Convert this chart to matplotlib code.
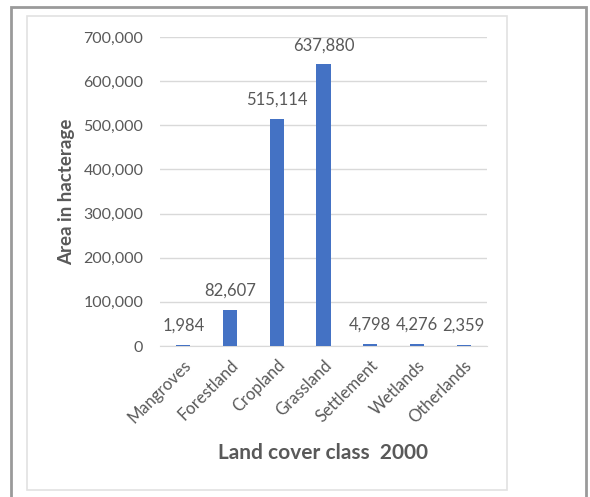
import matplotlib
matplotlib.use("Agg")
import matplotlib.pyplot as plt
from matplotlib.patches import Rectangle
from matplotlib.ticker import FuncFormatter

categories = ["Mangroves", "Forestland", "Cropland", "Grassland", "Settlement", "Wetlands", "Otherlands"]
values = [1984, 82607, 515114, 637880, 4798, 4276, 2359]

plt.rcParams['font.family'] = ['Lato', 'DejaVu Sans']
TXT = "#595959"
BAR = "#4472C4"

W, H = 590, 497
fig = plt.figure(figsize=(W/100, H/100), dpi=100)

def fx(px): return px / W
def fy(py): return 1 - py / H

# outer border
fig.patches.append(Rectangle((fx(11), fy(500)), fx(586) - fx(11), fy(7) - fy(500),
                             transform=fig.transFigure, fill=False, edgecolor="#9a9a9a", lw=2.0))
# inner chart border
fig.patches.append(Rectangle((fx(27), fy(490)), fx(507) - fx(27), fy(16) - fy(490),
                             transform=fig.transFigure, fill=False, edgecolor="#e2e2e2", lw=1.2))

ax = fig.add_axes([fx(160), fy(346), fx(487) - fx(160), fy(37) - fy(346)])
x = range(len(categories))
bars = ax.bar(x, values, width=0.3, color=BAR, zorder=3)
ax.set_xlim(-0.5, len(categories) - 0.5)
ax.set_ylim(0, 700000)
ax.set_yticks(range(0, 700001, 100000))
ax.yaxis.set_major_formatter(FuncFormatter(lambda v, p: f"{int(v):,}"))
ax.grid(axis="y", color="#d9d9d9", lw=1, zorder=0)
for s in ax.spines.values():
    s.set_visible(False)
ax.spines["bottom"].set_visible(True)
ax.spines["bottom"].set_color("#d9d9d9")
ax.tick_params(axis="both", length=0, colors=TXT)
ax.tick_params(axis="y", pad=12, labelsize=11.5)
ax.set_xticks(list(x))
ax.set_xticklabels(categories, rotation=45, ha="right", rotation_mode="anchor", color=TXT, fontsize=12)
ax.tick_params(axis="x", pad=8)

for xi, v in zip(x, values):
    ax.annotate(f"{v:,}", (xi, v), xytext=(0, 8), textcoords="offset points",
                ha="center", va="bottom", color=TXT, fontsize=12)

ax.set_ylabel("Area in hacterage", color=TXT, fontsize=13.5, fontweight="bold", labelpad=6)
ax.set_xlabel("Land cover class  2000", color=TXT, fontsize=15, fontweight="bold", labelpad=12)

fig.savefig("out.png", dpi=100)
